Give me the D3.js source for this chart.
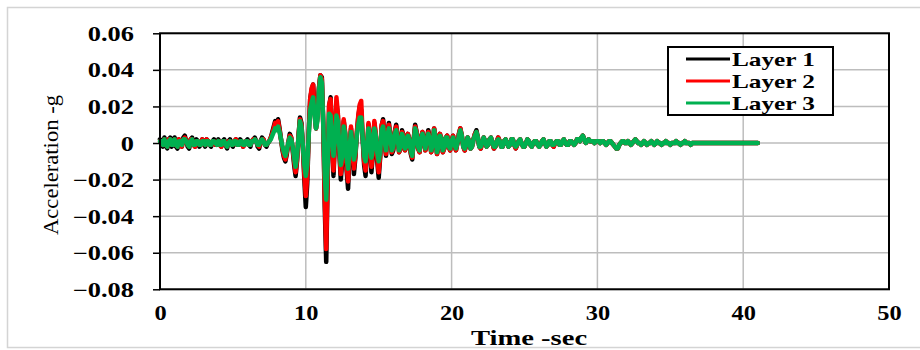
<!DOCTYPE html>
<html>
<head>
<meta charset="utf-8">
<script src="https://cdn.jsdelivr.net/npm/d3@7"></script>
<style>
  body { margin: 0; background: #fff; }
  svg { display: block; }
</style>
</head>
<body>
<svg id="chart" width="920" height="350"></svg>
<script>
// sample interval of the records, seconds
const dt = 0.1;

// acceleration records in milli-g, one row per second (t = k.0 ... k.9)
const layer1 = [
  2, 1, -2, 3, -1, -3, 2, 3, -2, -1,
  3, -2, -3, 2, 1, -2, 3, 4, 1, -2,
  -3, 2, 3, -1, -2, 2, 1, -2, -1, 2,
  1, -2, 2, 1, -1, -2, 1, 2, -1, -1,
  2, -1, -2, 1, 2, -1, -3, 1, 2, -1,
  -2, 1, 2, -1, -1, 2, 1, -2, -1, 1,
  2, -1, -2, 1, 2, 3, 1, -2, -3, 1,
  3, 2, -1, -2, 0, 1, 3, 6, 9, 12,
  10, 13, 8, 2, -4, -8, -10, -6, 0, 5,
  3, -4, -12, -18, -10, 4, 14, 11, -2, -20,
  -35, -22, 5, 24, 29, 32, 18, 8, 15, 30,
  37, 36, 10, -35, -65, -20, 20, 25, 5, -18,
  2, 22, 15, -5, -20, -10, 12, 5, -15, -25,
  -5, 8, -3, -17, -8, 5, 14, 20, 18, 2,
  -12, -18, -4, 10, 3, -16, -6, 11, 4, -10,
  -19, -8, 9, 13, 2, -7, 5, 11, 3, -6,
  -4, 6, 10, 2, -5, -3, 7, 4, -4, -2,
  5, 2, -6, -9, 2, 10, 6, -3, -5, 3,
  6, 1, -4, 2, 7, 2, -5, -1, 8, 3,
  -6, -2, 5, 2, -5, -3, 3, 4, -2, -4,
  1, 4, -1, -4, 0, 5, 8, 4, -2, -4,
  -1, 3, 1, -3, -2, 2, 5, 7, 3, -2,
  -3, 0, 3, 1, -2, -1, 2, 3, 0, -3,
  -2, 1, 3, 1, -2, -2, 1, 2, 0, -2,
  -1, 2, 2, -1, -3, -1, 1, 2, 0, -2,
  -2, 0, 2, 1, -1, -2, 0, 1, 1, -1,
  -2, -1, 1, 2, 0, -2, -1, 1, 1, -1,
  -2, 0, 1, 1, -1, -1, 1, 2, 0, -1,
  -1, 1, 1, 0, -1, 0, 2, 2, 1, 3,
  4, 2, 0, 1, 2, 1, 1, 1, 0, 1,
  1, 1, 0, 1, 1, 0, -1, 0, 1, 1,
  0, -1, -2, -3, -3, -1, 0, 1, 1, 0,
  0, 1, 0, -1, 0, 1, 2, 1, 0, 0,
  -1, 0, 1, 0, -1, 0, 0, 1, 0, -1,
  0, 1, 0, 0, -1, 0, 0, 1, 0, 0,
  -1, 0, 0, 0, 1, 0, 0, -1, 0, 0,
  1, 0, 0, 0, -1, 0, 0, 0, 0, 0,
  0, 0, 0, 0, 0, 0, 0, 0, 0, 0,
  0, 0, 0, 0, 0, 0, 0, 0, 0, 0,
  0, 0, 0, 0, 0, 0, 0, 0, 0, 0,
  0, 0, 0, 0, 0, 0, 0, 0, 0, 0,
  0
];

const layer2 = [
  1, 1, -1, 2, -1, -2, 2, 2, -1, -1,
  2, -1, -2, 2, 1, -2, 2, 3, 1, -1,
  -2, 2, 2, -1, -2, 1, 1, -1, -1, 2,
  1, -1, 2, 1, -1, -1, 1, 1, -1, -1,
  1, -1, -2, 1, 1, -1, -2, 1, 1, -1,
  -1, 1, 2, -1, -1, 1, 1, -2, -1, 1,
  1, -1, -1, 1, 2, 2, 1, -1, -2, 1,
  2, 2, -1, -1, 0, 1, 3, 5, 8, 11,
  9, 12, 7, 2, -3, -7, -9, -5, 0, 4,
  3, -3, -10, -16, -9, 4, 13, 10, -2, -17,
  -29, -18, 5, 24, 30, 32, 17, 8, 14, 30,
  37, 35, 9, -30, -58, -18, 21, 24, 4, -15,
  3, 25, 16, -4, -17, -9, 13, 6, -12, -21,
  -4, 9, -2, -14, -7, 6, 15, 21, 23, 4,
  -10, -15, -3, 11, 4, -13, -5, 12, 5, -8,
  -16, -7, 10, 12, 3, -6, 5, 10, 3, -5,
  -3, 6, 9, 3, -5, -3, 6, 4, -4, -2,
  5, 2, -5, -8, 2, 9, 6, -3, -5, 3,
  6, 1, -4, 2, 6, 2, -5, -1, 8, 3,
  -6, -2, 5, 2, -5, -3, 3, 4, -2, -4,
  1, 4, -1, -4, 0, 5, 8, 4, -2, -4,
  -1, 3, 1, -3, -2, 2, 5, 6, 3, -2,
  -3, 0, 3, 1, -2, -1, 2, 3, 0, -3,
  -2, 1, 3, 1, -2, -2, 1, 2, 0, -2,
  -1, 2, 2, -1, -3, -1, 1, 2, 0, -2,
  -2, 0, 2, 1, -1, -2, 0, 1, 1, -1,
  -2, -1, 1, 2, 0, -2, -1, 1, 1, -1,
  -2, 0, 1, 1, -1, -1, 1, 2, 0, -1,
  -1, 1, 1, 0, -1, 0, 2, 2, 1, 3,
  4, 2, 0, 1, 2, 1, 1, 1, 0, 1,
  1, 1, 0, 1, 1, 0, -1, 0, 1, 1,
  0, -1, -2, -3, -3, -1, 0, 1, 1, 0,
  0, 1, 0, -1, 0, 1, 2, 1, 0, 0,
  -1, 0, 1, 0, -1, 0, 0, 1, 0, -1,
  0, 1, 0, 0, -1, 0, 0, 1, 0, 0,
  -1, 0, 0, 0, 1, 0, 0, -1, 0, 0,
  1, 0, 0, 0, -1, 0, 0, 0, 0, 0,
  0, 0, 0, 0, 0, 0, 0, 0, 0, 0,
  0, 0, 0, 0, 0, 0, 0, 0, 0, 0,
  0, 0, 0, 0, 0, 0, 0, 0, 0, 0,
  0, 0, 0, 0, 0, 0, 0, 0, 0, 0,
  0
];

const layer3 = [
  1, 1, -1, 2, -1, -2, 1, 2, -1, -1,
  2, -1, -2, 1, 1, -1, 2, 2, 1, -1,
  -2, 1, 2, -1, -1, 1, 1, -1, -1, 1,
  1, -1, 1, 1, -1, -1, 1, 1, 0, -1,
  1, -1, -1, 1, 1, -1, -2, 0, 1, -1,
  -1, 1, 1, -1, -1, 1, 1, -1, -1, 1,
  1, -1, -1, 1, 1, 2, 1, -1, -1, 1,
  2, 1, -1, -1, 0, 1, 2, 4, 6, 8,
  7, 9, 6, 2, -2, -5, -7, -4, 0, 3,
  2, -2, -8, -13, -7, 3, 12, 9, -2, -12,
  -18, -12, 4, 18, 22, 25, 15, 8, 12, 28,
  36, 33, 10, -18, -31, -12, 16, 15, 2, -7,
  2, 15, 12, -2, -12, -7, 9, 5, -8, -14,
  -3, 6, -1, -9, -5, 4, 10, 14, 14, 3,
  -7, -10, -2, 8, 3, -8, -3, 8, 4, -5,
  -10, -5, 7, 9, 2, -4, 4, 8, 3, -4,
  -2, 5, 7, 2, -4, -2, 5, 3, -3, -2,
  4, 2, -4, -7, 1, 8, 5, -2, -4, 2,
  5, 1, -3, 2, 5, 2, -4, -1, 7, 3,
  -5, -2, 4, 2, -4, -2, 3, 3, -2, -3,
  1, 3, -1, -3, 0, 4, 7, 4, -2, -3,
  -1, 3, 1, -3, -2, 2, 4, 6, 3, -2,
  -2, 0, 3, 1, -2, -1, 2, 3, 0, -2,
  -2, 1, 2, 1, -2, -2, 1, 2, 0, -2,
  -1, 2, 2, -1, -2, -1, 1, 2, 0, -2,
  -2, 0, 2, 1, -1, -2, 0, 1, 1, -1,
  -2, -1, 1, 2, 0, -2, -1, 1, 1, -1,
  -1, 0, 1, 1, -1, -1, 1, 2, 0, -1,
  -1, 1, 1, 0, -1, 0, 2, 2, 1, 3,
  4, 2, 0, 1, 2, 1, 1, 1, 0, 1,
  1, 1, 0, 1, 1, 0, -1, 0, 1, 1,
  0, -1, -2, -3, -3, -1, 0, 1, 1, 0,
  0, 1, 0, -1, 0, 1, 2, 1, 0, 0,
  -1, 0, 1, 0, -1, 0, 0, 1, 0, -1,
  0, 1, 0, 0, -1, 0, 0, 1, 0, 0,
  -1, 0, 0, 0, 1, 0, 0, -1, 0, 0,
  1, 0, 0, 0, -1, 0, 0, 0, 0, 0,
  0, 0, 0, 0, 0, 0, 0, 0, 0, 0,
  0, 0, 0, 0, 0, 0, 0, 0, 0, 0,
  0, 0, 0, 0, 0, 0, 0, 0, 0, 0,
  0, 0, 0, 0, 0, 0, 0, 0, 0, 0,
  0
];

const seriesNames = ['Layer 1', 'Layer 2', 'Layer 3'];
const xTicks = [0, 10, 20, 30, 40, 50];
const yTicks = [0.06, 0.04, 0.02, 0, -0.02, -0.04, -0.06, -0.08];

const colors = ['#000000', '#ff0000', '#00b050'];
const serif = '"Liberation Serif", "Times New Roman", serif';

const svg = d3.select('#chart');

// outer chart frame
svg.append('rect')
  .attr('x', 7.5).attr('y', 7.5)
  .attr('width', 930).attr('height', 340)
  .attr('fill', '#fff')
  .attr('stroke', '#d4d4d4')
  .attr('stroke-width', 1.5);

const plot = { left: 160, right: 889, top: 33.3, bottom: 289.3 };

const x = d3.scaleLinear().domain([0, 50]).range([plot.left, plot.right]);
const y = d3.scaleLinear().domain([-0.08, 0.06]).range([plot.bottom, plot.top]);

// grid
const grid = svg.append('g');
grid.selectAll('line.h')
  .data(yTicks)
  .enter().append('line')
  .attr('x1', plot.left).attr('x2', plot.right)
  .attr('y1', d => y(d)).attr('y2', d => y(d))
  .attr('stroke', '#bdbdbd')
  .attr('stroke-width', 1.5);
grid.selectAll('line.v')
  .data(xTicks.slice(1, -1))
  .enter().append('line')
  .attr('x1', d => x(d)).attr('x2', d => x(d))
  .attr('y1', plot.top).attr('y2', plot.bottom)
  .attr('stroke', '#bdbdbd')
  .attr('stroke-width', 1.5);

// series (layer 1 underneath, layer 3 on top)
const line = d3.line()
  .x((d, i) => x(i * dt))
  .y(d => y(d / 1000));

const records = [layer1, layer2, layer3];
svg.append('g')
  .selectAll('path')
  .data(records)
  .enter().append('path')
  .attr('d', d => line(d))
  .attr('fill', 'none')
  .attr('stroke', (d, i) => colors[i])
  .attr('stroke-width', 4.5)
  .attr('stroke-linejoin', 'round')
  .attr('stroke-linecap', 'round');

// plot border
svg.append('rect')
  .attr('x', plot.left).attr('y', plot.top)
  .attr('width', plot.right - plot.left)
  .attr('height', plot.bottom - plot.top)
  .attr('fill', 'none')
  .attr('stroke', '#000')
  .attr('stroke-width', 2);

// axes
const fmtY = v => (v === 0 ? '0' : d3.format('.2f')(v));
const ySx = 1.32;
const yAxis = svg.append('g')
  .attr('transform', `translate(${plot.left},0)`)
  .call(d3.axisLeft(y).tickValues(yTicks).tickSize(7).tickFormat(fmtY));
yAxis.select('.domain').remove();
yAxis.selectAll('.tick line').attr('stroke', '#000').attr('stroke-width', 1.5);
yAxis.selectAll('.tick text')
  .attr('x', -26 / ySx)
  .attr('dy', null)
  .attr('y', 7)
  .attr('transform', `scale(${ySx},1)`)
  .attr('fill', '#000')
  .style('font-family', serif)
  .style('font-size', '20px')
  .style('font-weight', 'bold');

const xSx = 1.22;
const xAxis = svg.append('g')
  .attr('transform', `translate(0,${plot.bottom})`)
  .call(d3.axisBottom(x).tickValues(xTicks).tickSize(0).tickFormat(d3.format('d')));
xAxis.select('.domain').remove();
xAxis.selectAll('.tick text')
  .attr('y', 31)
  .attr('dy', null)
  .attr('transform', `scale(${xSx},1)`)
  .attr('fill', '#000')
  .style('font-family', serif)
  .style('font-size', '20px')
  .style('font-weight', 'bold');

// axis titles
svg.append('text')
  .attr('transform', `translate(529,345) scale(1.3,1)`)
  .attr('text-anchor', 'middle')
  .style('font-family', serif)
  .style('font-size', '22px')
  .style('font-weight', 'bold')
  .text('Time -sec');

svg.append('text')
  .attr('transform', 'translate(58,165) rotate(-90)')
  .attr('text-anchor', 'middle')
  .attr('textLength', 140)
  .attr('lengthAdjust', 'spacingAndGlyphs')
  .style('font-family', serif)
  .style('font-size', '21px')
  .text('Acceleration -g');

// legend
const legend = svg.append('g');
legend.append('rect')
  .attr('x', 668).attr('y', 47)
  .attr('width', 165).attr('height', 68)
  .attr('fill', '#fff')
  .attr('stroke', '#000')
  .attr('stroke-width', 2);
const rowY = [59, 81, 103];
const item = legend.selectAll('g.item')
  .data(seriesNames)
  .enter().append('g')
  .attr('transform', (d, i) => `translate(0,${rowY[i]})`);
item.append('line')
  .attr('x1', 686).attr('x2', 730)
  .attr('stroke', (d, i) => colors[i])
  .attr('stroke-width', 3);
item.append('text')
  .attr('x', 732).attr('y', 6.5)
  .attr('textLength', 83)
  .attr('lengthAdjust', 'spacingAndGlyphs')
  .style('font-family', serif)
  .style('font-size', '19px')
  .style('font-weight', 'bold')
  .text(d => d);
</script>
</body>
</html>
